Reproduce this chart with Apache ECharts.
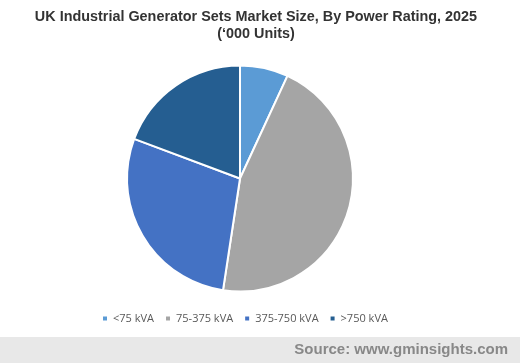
<!DOCTYPE html>
<html><head><meta charset="utf-8">
<script src="https://cdn.jsdelivr.net/npm/echarts@6/dist/echarts.min.js"></script>
<style>html,body{margin:0;padding:0;background:#fff}#c{width:520px;height:363px}</style>
</head><body><div id="c"></div>
<script>
const categories = ['<75 kVA', '75-375 kVA', '375-750 kVA', '>750 kVA'];
const values = [6.9, 45.5, 28.3, 19.3];
const colors = ['#5B9BD5', '#A5A5A5', '#4472C4', '#255E91'];

const chart = echarts.init(document.getElementById('c'));
chart.setOption({
  animation: false,
  legend: {
    bottom: 34, left: 96, itemWidth: 6, itemHeight: 6, itemGap: 10, icon: 'rect',
    textStyle: {fontFamily: 'Open Sans', fontSize: 11, color: '#595959'},
    data: categories
  },
  graphic: [
    {type: 'text', x: 256, y: 9, style: {text: 'UK Industrial Generator Sets Market Size, By Power Rating, 2025\n(‘000 Units)', align: 'center', fill: '#333', font: 'bold 14.4px Liberation Sans, Arial', lineHeight: 17}},
    {type: 'rect', left: 0, top: 337, shape: {width: 520, height: 26}, style: {fill: '#E8E8E8'}, silent: true},
    {type: 'text', right: 12, top: 342, style: {text: 'Source: www.gminsights.com', fill: '#888', font: 'bold 15px Liberation Sans, Arial'}}
  ],
  series: [{
    type: 'pie', center: [240, 178.5], radius: 113, startAngle: 90, clockwise: true,
    label: {show: false}, labelLine: {show: false},
    itemStyle: {borderColor: '#fff', borderWidth: 2},
    data: categories.map((n, i) => ({name: n, value: values[i], itemStyle: {color: colors[i]}}))
  }]
});
</script></body></html>
